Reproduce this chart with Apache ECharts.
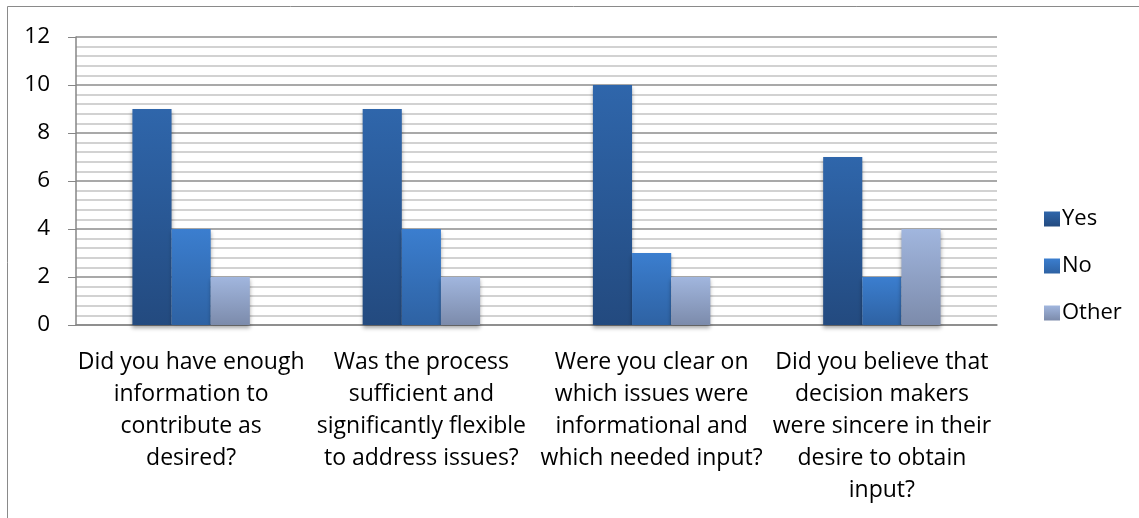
<!DOCTYPE html>
<html>
<head>
<meta charset="utf-8">
<script src="https://cdn.jsdelivr.net/npm/echarts@6/dist/echarts.min.js"></script>
<style>
  html, body { margin: 0; padding: 0; background: #fff; }
  #chart { width: 1139px; height: 518px; }
</style>
</head>
<body>
<div id="chart"></div>
<script>
const categories = [
  "Did you have enough\ninformation to\ncontribute as\ndesired?",
  "Was the process\nsufficient and\nsignificantly flexible\nto address issues?",
  "Were you clear on\nwhich issues were\ninformational and\nwhich needed input?",
  "Did you believe that\ndecision makers\nwere sincere in their\ndesire to obtain\ninput?"
];
const yesValues = [9, 9, 10, 7];
const noValues = [4, 4, 3, 2];
const otherValues = [2, 2, 2, 4];

const font = "'Open Sans', sans-serif";

function grad(top, bottom) {
  return new echarts.graphic.LinearGradient(0, 0, 0, 1, [
    { offset: 0, color: top },
    { offset: 1, color: bottom }
  ]);
}

const shadow = {
  shadowColor: "rgba(0,0,0,0.35)",
  shadowBlur: 4,
  shadowOffsetY: 3
};

const chart = echarts.init(document.getElementById("chart"));

chart.setOption({
  animation: false,
  graphic: [
    {
      type: "rect",
      shape: { x: 7.5, y: 6.5, width: 1200, height: 600 },
      style: { fill: "none", stroke: "#8a8a8a", lineWidth: 1 },
      silent: true
    }
  ],
  grid: { left: 76, right: 142, top: 37, bottom: 193 },
  legend: {
    orient: "vertical",
    left: 1039,
    top: 203,
    itemWidth: 16,
    itemHeight: 15,
    itemGap: 25,
    icon: "rect",
    textStyle: { fontFamily: font, fontSize: 22, color: "#000", padding: [0, 0, 0, -3] },
    data: ["Yes", "No", "Other"]
  },
  xAxis: {
    type: "category",
    data: categories,
    axisLine: { lineStyle: { color: "#868686", width: 1.5 } },
    axisTick: { show: false },
    axisLabel: {
      interval: 0,
      margin: 21,
      fontFamily: font,
      fontSize: 23,
      lineHeight: 32,
      color: "#000",
      align: "center"
    }
  },
  yAxis: {
    type: "value",
    min: 0,
    max: 12,
    interval: 2,
    axisLine: { show: true, lineStyle: { color: "#868686", width: 1.5 } },
    axisTick: { show: true, length: 8, lineStyle: { color: "#868686" } },
    axisLabel: { fontFamily: font, fontSize: 22.5, color: "#000", margin: 26 },
    splitLine: { lineStyle: { color: "#8c8c8c", width: 1.5 } },
    minorTick: { show: false, splitNumber: 5 },
    minorSplitLine: { show: true, lineStyle: { color: "#c4c4c4", width: 1.5 } }
  },
  series: [
    {
      name: "Yes",
      type: "bar",
      data: yesValues,
      barGap: "0%",
      barCategoryGap: "49%",
      itemStyle: Object.assign({ color: grad("#2f66ab", "#234a7f") }, shadow)
    },
    {
      name: "No",
      type: "bar",
      data: noValues,
      itemStyle: Object.assign({ color: grad("#3b7ecf", "#2e62a3") }, shadow)
    },
    {
      name: "Other",
      type: "bar",
      data: otherValues,
      itemStyle: Object.assign({ color: grad("#a1b6de", "#7c8bab") }, shadow)
    }
  ]
});
</script>
</body>
</html>
